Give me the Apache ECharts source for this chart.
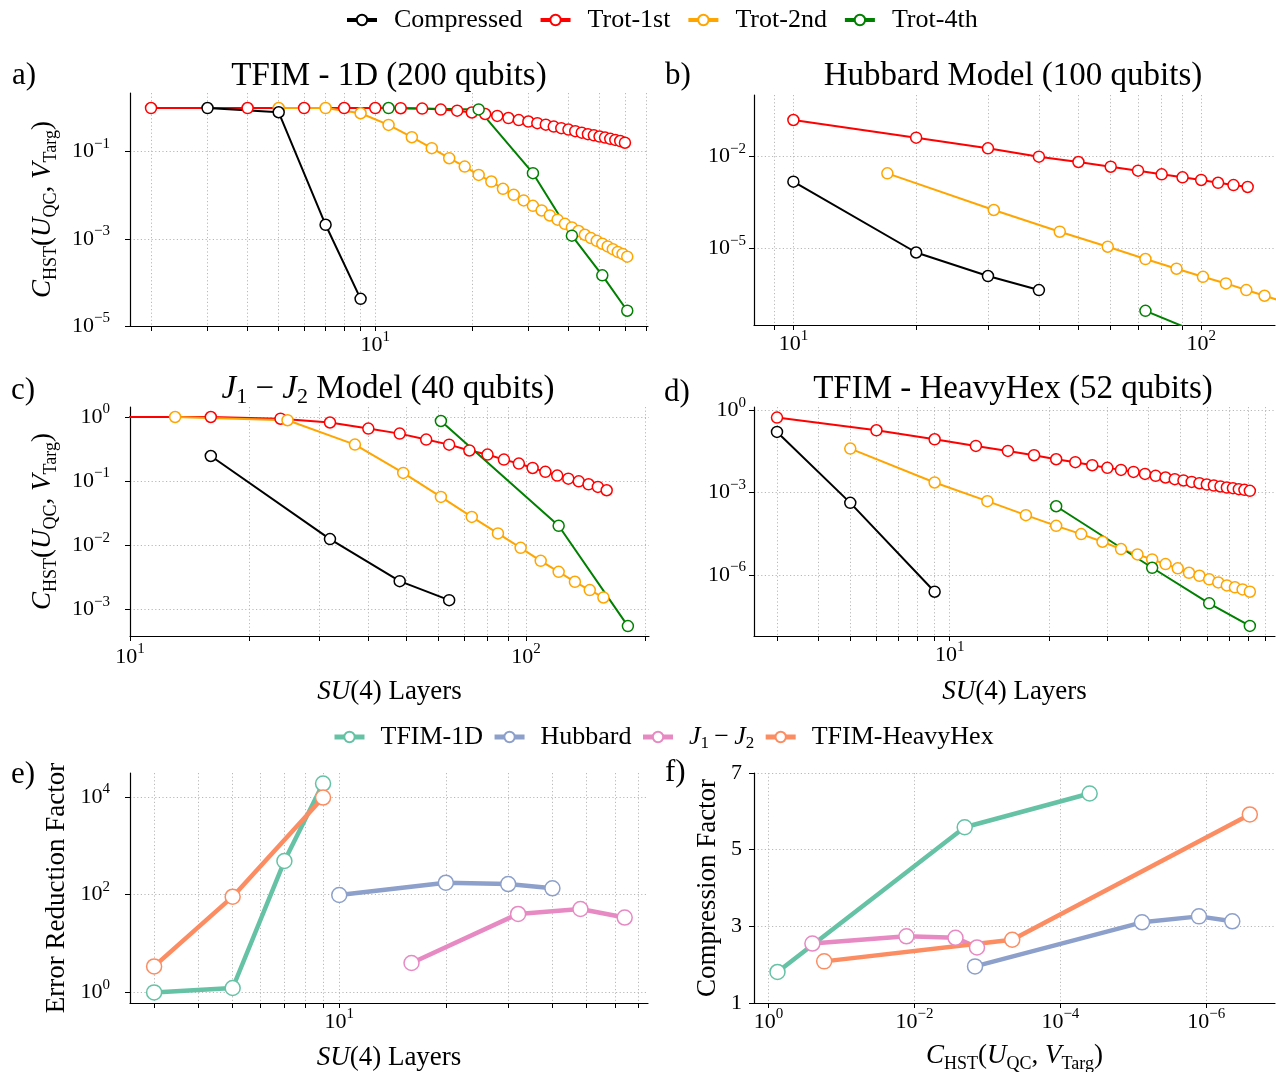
<!DOCTYPE html>
<html>
<head>
<meta charset="utf-8">
<title>Compressed circuits vs Trotter</title>
<script src="https://cdn.jsdelivr.net/npm/echarts@6.0.0/dist/echarts.min.js"></script>
<style>html,body{margin:0;padding:0;background:#fff;}#chart{width:1276px;height:1072px;}</style>
</head>
<body>
<div id="chart"></div>
<script>
// ================= DATA =================
// a) TFIM - 1D (200 qubits)
const aCompX = [3, 5, 7, 9];
const aCompY = [1.0, 0.80, 0.0021, 4.2e-5];
const aT1X = [2, 4, 6, 8, 10, 12, 14, 16, 18, 20, 22, 24, 26, 28, 30, 32, 34, 36, 38, 40, 42, 44, 46, 48, 50, 52, 54, 56, 58, 60];
const aT1Y = [1.0, 1.0, 1.0, 1.0, 1.0, 0.99, 0.97, 0.92, 0.87, 0.79, 0.73, 0.66, 0.59, 0.53, 0.49, 0.45, 0.415, 0.375, 0.345, 0.32, 0.295, 0.272, 0.252, 0.237, 0.222, 0.21, 0.197, 0.186, 0.175, 0.16];
const aT2X = [5, 7, 9, 11, 13, 15, 17, 19, 21, 23, 25, 27, 29, 31, 33, 35, 37, 39, 41, 43, 45, 47, 49, 51, 53, 55, 57, 59, 61];
const aT2Y = [1.0, 1.0, 0.76, 0.41, 0.214, 0.12, 0.0706, 0.0453, 0.0292, 0.0206, 0.014, 0.0102, 0.0076, 0.0057, 0.00447, 0.00343, 0.00275, 0.00221, 0.00182, 0.00151, 0.00124, 0.00104, 0.0009, 0.00077, 0.00067, 0.00058, 0.0005, 0.00045, 0.00039];
const aT4X = [11, 21, 31, 41, 51, 61];
const aT4Y = [1.0, 0.93, 0.032, 0.00118, 1.45e-4, 2.24e-5];

// b) Hubbard Model (100 qubits)
const bCompX = [10, 20, 30, 40];
const bCompY = [1.52e-3, 7.3e-6, 1.24e-6, 4.3e-7];
const bT1X = [10, 20, 30, 40, 50, 60, 70, 80, 90, 100, 110, 120, 130];
const bT1Y = [0.159, 0.042, 0.0188, 0.0100, 0.0067, 0.0047, 0.00348, 0.00265, 0.00211, 0.00173, 0.0014, 0.00118, 0.00102];
const bT2X = [17, 31, 45, 59, 73, 87, 101, 115, 129, 143, 157];
const bT2Y = [2.85e-3, 1.8e-4, 3.5e-5, 1.13e-5, 4.46e-6, 2.15e-6, 1.17e-6, 7.1e-7, 4.3e-7, 2.8e-7, 1.9e-7];
const bT4X = [73, 101];
const bT4Y = [9.0e-8, 1.5e-8];

// c) J1-J2 Model (40 qubits)
const cCompX = [16, 32, 48, 64];
const cCompY = [0.246, 0.0124, 0.00273, 0.00138];
const cT1X = [8, 16, 24, 32, 40, 48, 56, 64, 72, 80, 88, 96, 104, 112, 120, 128, 136, 144, 152, 160];
const cT1Y = [1.0, 1.0, 0.94, 0.82, 0.66, 0.55, 0.444, 0.37, 0.30, 0.259, 0.216, 0.1875, 0.16, 0.139, 0.1217, 0.109, 0.099, 0.089, 0.081, 0.0718];
const cT2X = [13, 25, 37, 49, 61, 73, 85, 97, 109, 121, 133, 145, 157];
const cT2Y = [1.0, 0.89, 0.371, 0.134, 0.0565, 0.0275, 0.0152, 0.00904, 0.00567, 0.00382, 0.00267, 0.00198, 0.00152];
const cT4X = [61, 121, 181];
const cT4Y = [0.866, 0.020, 5.43e-4];

// d) TFIM - HeavyHex (52 qubits)
const dCompX = [3, 5, 9];
const dCompY = [0.163, 4.26e-4, 2.47e-7];
const dT1X = [3, 6, 9, 12, 15, 18, 21, 24, 27, 30, 33, 36, 39, 42, 45, 48, 51, 54, 57, 60, 63, 66, 69, 72, 75, 78, 81];
const dT1Y = [0.542, 0.187, 0.088, 0.0504, 0.0331, 0.0231, 0.0165, 0.0129, 0.0100, 0.0080, 0.00676, 0.0057, 0.00483, 0.00409, 0.00357, 0.0031, 0.00278, 0.00247, 0.00221, 0.00198, 0.00182, 0.00168, 0.00154, 0.00146, 0.00134, 0.00127, 0.00117];
const dT2X = [5, 9, 13, 17, 21, 25, 29, 33, 37, 41, 45, 49, 53, 57, 61, 65, 69, 73, 77, 81];
const dT2Y = [0.0404, 0.00235, 4.9e-4, 1.52e-4, 6.2e-5, 3.1e-5, 1.63e-5, 8.8e-6, 5.65e-6, 3.7e-6, 2.5e-6, 1.75e-6, 1.21e-6, 9.4e-7, 7.0e-7, 5.4e-7, 4.2e-7, 3.57e-7, 3.0e-7, 2.47e-7];
const dT4X = [21, 41, 61, 81];
const dT4Y = [3.2e-4, 1.84e-6, 9.3e-8, 1.4e-8];

// e) Error reduction factor vs SU(4) layers
const eTfimX = [3, 5, 7, 9];
const eTfimY = [1.0, 1.23, 488, 18760];
const eHubX = [10, 20, 30, 40];
const eHubY = [98.6, 176, 165, 135];
const eJ12X = [16, 32, 48, 64];
const eJ12Y = [4.0, 40.4, 51, 34];
const eHexX = [3, 5, 9];
const eHexY = [3.4, 91, 9720];

// f) Compression factor vs C_HST
const fTfimX = [0.755, 2.05e-3, 3.97e-5];
const fTfimY = [1.81, 5.585, 6.465];
const fHubX = [1.48e-3, 7.6e-6, 1.26e-6, 4.4e-7];
const fHubY = [1.955, 3.105, 3.26, 3.13];
const fJ12X = [0.251, 0.0129, 2.74e-3, 1.39e-3];
const fJ12Y = [2.55, 2.74, 2.70, 2.45];
const fHexX = [0.173, 4.57e-4, 2.53e-7];
const fHexY = [2.086, 2.65, 5.92];

// tick values / tick labels
const aXTicks = [2, 3, 4, 5, 6, 7, 8, 9, 10, 20, 30, 40, 50, 60, 70];
const aXLabels = [10];
const aYLabels = [1e-5, 1e-3, 1e-1];
const bXTicks = [9, 10, 20, 30, 40, 50, 60, 70, 80, 90, 100];
const bXLabels = [10, 100];
const bYLabels = [1e-5, 1e-2];
const cXTicks = [10, 20, 30, 40, 50, 60, 70, 80, 90, 100, 200];
const cXLabels = [10, 100];
const cYLabels = [1e-3, 1e-2, 1e-1, 1];
const dXTicks = [3, 4, 5, 6, 7, 8, 9, 10, 20, 30, 40, 50, 60, 70, 80, 90];
const dXLabels = [10];
const dYLabels = [1e-6, 1e-3, 1];
const eXTicks = [3, 4, 5, 6, 7, 8, 9, 10, 20, 30, 40, 50, 60, 70];
const eXLabels = [10];
const eYLabels = [1, 100, 1e4];
const fXLabels = [1, 1e-2, 1e-4, 1e-6];
const fYLabels = [1, 3, 5, 7];

const legendTop = ['Compressed', 'Trot-1st', 'Trot-2nd', 'Trot-4th'];
const legendBottom = ['TFIM-1D', 'Hubbard', 'J1-J2', 'TFIM-HeavyHex'];

// ================= STYLE / LAYOUT =================
const FONT = 'Liberation Serif';
const C_COMP = '#000000', C_T1 = '#ff0000', C_T2 = '#ffa500', C_T4 = '#008000';
const C_TFIM = '#66c2a5', C_HUB = '#8da0cb', C_J12 = '#e78ac3', C_HEX = '#fc8d62';

const grids = [
  {left: 130, top: 93, width: 518, height: 233},
  {left: 754, top: 95, width: 521, height: 230},
  {left: 130, top: 407, width: 519, height: 229},
  {left: 754, top: 407, width: 521, height: 229},
  {left: 130, top: 773, width: 518, height: 230},
  {left: 754, top: 773, width: 521, height: 230}
];
// axis extents (powers of ten)
const xExt = [[0.2355, 1.850], [0.9034, 2.181], [1.0, 2.311], [0.4075, 1.9846], [0.409, 1.872], [-6.942, 0.2]];
const yExt = [[-5, 0.345], [-7.51, 0.02], [-3.42, 0.156], [-8.22, 0.12], [-0.217, 4.49]];

const tickRich = {
  b: {fontFamily: FONT, fontSize: 22, color: '#000', lineHeight: 30},
  s: {fontFamily: FONT, fontSize: 15, color: '#000', verticalAlign: 'top', lineHeight: 16}
};
function expLabel(v) {
  const e = Math.round(Math.log10(v));
  return '{b|10}{s|' + (e < 0 ? '\u2212' + (-e) : String(e)) + '}';
}
const nameRich = {
  i: {fontFamily: FONT, fontStyle: 'italic', fontSize: 27, lineHeight: 34, color: '#000'},
  r: {fontFamily: FONT, fontSize: 27, lineHeight: 34, color: '#000'},
  sub: {fontFamily: FONT, fontSize: 18, lineHeight: 14, verticalAlign: 'bottom', color: '#000'}
};
const CHST = '{i|C}{sub|HST}{r|(}{i|U}{sub|QC}{r|, }{i|V}{sub|Targ}{r|)}';
const SU4 = '{i|SU}{r|(4) Layers}';

const gridLine = {show: true, lineStyle: {color: '#b8b8b8', type: [1.2, 2.4], width: 1}};
const axLine = {show: true, onZero: false, lineStyle: {color: '#000', width: 1.2}};

function logAxis(g, ext, ticks, labels, margin, pos, extra) {
  const ax = {
    type: 'log', logBase: 10, gridIndex: g, position: pos,
    min: Math.pow(10, ext[0]), max: Math.pow(10, ext[1]),
    axisLine: axLine,
    axisTick: {show: true, length: 5, customValues: ticks, lineStyle: {color: '#000', width: 1}},
    axisLabel: {show: true, customValues: labels, formatter: expLabel, rich: tickRich, margin: margin},
    splitLine: gridLine,
    minorTick: {show: false}, minorSplitLine: {show: false}
  };
  return Object.assign(ax, extra || {});
}

const xAxes = [
  logAxis(0, xExt[0], aXTicks, aXLabels, 4, 'bottom'),
  logAxis(1, xExt[1], bXTicks, bXLabels, 4, 'bottom'),
  logAxis(2, xExt[2], cXTicks, cXLabels, 6, 'bottom', {name: SU4, nameLocation: 'middle', nameGap: 39, nameTextStyle: {rich: nameRich}}),
  logAxis(3, xExt[3], dXTicks, dXLabels, 4, 'bottom', {name: SU4, nameLocation: 'middle', nameGap: 39, nameTextStyle: {rich: nameRich}}),
  logAxis(4, xExt[4], eXTicks, eXLabels, 4, 'bottom', {name: SU4, nameLocation: 'middle', nameGap: 38, nameTextStyle: {rich: nameRich}}),
  logAxis(5, xExt[5], fXLabels, fXLabels, 4, 'bottom', {inverse: true, name: CHST, nameLocation: 'middle', nameGap: 36, nameTextStyle: {rich: nameRich}})
];
const yAxes = [
  logAxis(0, yExt[0], aYLabels, aYLabels, 20, 'left', {name: CHST, nameLocation: 'middle', nameRotate: 90, nameGap: 70, nameTextStyle: {rich: nameRich}}),
  logAxis(1, yExt[1], bYLabels, bYLabels, 8, 'left'),
  logAxis(2, yExt[2], cYLabels, cYLabels, 20, 'left', {name: CHST, nameLocation: 'middle', nameRotate: 90, nameGap: 70, nameTextStyle: {rich: nameRich}}),
  logAxis(3, yExt[3], dYLabels, dYLabels, 8, 'left'),
  logAxis(4, yExt[4], eYLabels, eYLabels, 20, 'left', {name: 'Error Reduction Factor', nameLocation: 'middle', nameRotate: 90, nameGap: 60, nameTextStyle: {fontFamily: FONT, fontSize: 27, color: '#000'}}),
  {
    type: 'value', gridIndex: 5, position: 'left', min: 1, max: 7,
    axisLine: axLine,
    axisTick: {show: true, length: 5, customValues: fYLabels, lineStyle: {color: '#000', width: 1}},
    axisLabel: {show: true, customValues: fYLabels, margin: 12, fontFamily: FONT, fontSize: 22, color: '#000'},
    splitLine: gridLine,
    name: 'Compression Factor', nameLocation: 'middle', nameRotate: 90, nameGap: 33,
    nameTextStyle: {fontFamily: FONT, fontSize: 27, color: '#000'}
  }
];

function mk(name, xs, ys, color, g, big, z) {
  return {
    type: 'line', name: name, xAxisIndex: g, yAxisIndex: g,
    data: xs.map((x, i) => [x, ys[i]]),
    symbol: 'circle', symbolSize: big ? 15 : 11,
    lineStyle: {color: color, width: big ? 4.5 : 2},
    itemStyle: {color: '#ffffff', borderColor: color, borderWidth: 1.5},
    emphasis: {disabled: true}, silent: true, clip: true, z: z || 2
  };
}

const series = [
  mk('Trot-1st', aT1X, aT1Y, C_T1, 0), mk('Trot-2nd', aT2X, aT2Y, C_T2, 0), mk('Compressed', aCompX, aCompY, C_COMP, 0), mk('Trot-4th', aT4X, aT4Y, C_T4, 0),
  mk('Trot-1st', bT1X, bT1Y, C_T1, 1), mk('Trot-2nd', bT2X, bT2Y, C_T2, 1), mk('Compressed', bCompX, bCompY, C_COMP, 1), mk('Trot-4th', bT4X, bT4Y, C_T4, 1),
  mk('Trot-1st', cT1X, cT1Y, C_T1, 2), mk('Trot-2nd', cT2X, cT2Y, C_T2, 2), mk('Compressed', cCompX, cCompY, C_COMP, 2), mk('Trot-4th', cT4X, cT4Y, C_T4, 2),
  mk('Trot-1st', dT1X, dT1Y, C_T1, 3), mk('Trot-2nd', dT2X, dT2Y, C_T2, 3), mk('Compressed', dCompX, dCompY, C_COMP, 3), mk('Trot-4th', dT4X, dT4Y, C_T4, 3),
  mk('TFIM-1D', eTfimX, eTfimY, C_TFIM, 4, true), mk('Hubbard', eHubX, eHubY, C_HUB, 4, true), mk('J1-J2', eJ12X, eJ12Y, C_J12, 4, true), mk('TFIM-HeavyHex', eHexX, eHexY, C_HEX, 4, true),
  mk('TFIM-1D', fTfimX, fTfimY, C_TFIM, 5, true), mk('Hubbard', fHubX, fHubY, C_HUB, 5, true), mk('J1-J2', fJ12X, fJ12Y, C_J12, 5, true), mk('TFIM-HeavyHex', fHexX, fHexY, C_HEX, 5, true)
];

const titleRich = {
  r: {fontFamily: FONT, fontSize: 33, color: '#000', lineHeight: 38},
  p: {fontFamily: FONT, fontSize: 31, color: '#000', lineHeight: 38},
  i: {fontFamily: FONT, fontSize: 33, fontStyle: 'italic', color: '#000', lineHeight: 38},
  sub: {fontFamily: FONT, fontSize: 22, color: '#000', verticalAlign: 'bottom', lineHeight: 17}
};
const labels = [
  {t: '{p|a)}', x: 12, y: 76, a: 'left'}, {t: '{p|b)}', x: 665, y: 76, a: 'left'},
  {t: '{p|c)}', x: 11, y: 391, a: 'left'}, {t: '{p|d)}', x: 664, y: 393, a: 'left'},
  {t: '{p|e)}', x: 11, y: 775, a: 'left'}, {t: '{p|f)}', x: 665, y: 773, a: 'left'},
  {t: '{r|TFIM - 1D (200 qubits)}', x: 389, y: 76, a: 'center'},
  {t: '{r|Hubbard Model (100 qubits)}', x: 1013, y: 76, a: 'center'},
  {t: '{i|J}{sub|1}{r| \u2212 }{i|J}{sub|2}{r| Model (40 qubits)}', x: 388, y: 389, a: 'center'},
  {t: '{r|TFIM - HeavyHex (52 qubits)}', x: 1013, y: 389, a: 'center'}
];
const graphic = labels.map(o => ({
  type: 'text', x: o.x, y: o.y, silent: true,
  style: {text: o.t, rich: titleRich, fontFamily: FONT, fontSize: 33, fill: '#000',
    textAlign: o.a, align: o.a, textVerticalAlign: 'middle', verticalAlign: 'middle'}
}));

function legendText(pad) {
  return {fontFamily: FONT, fontSize: 26, color: '#000', padding: [0, 0, 0, pad],
    rich: {
      i: {fontFamily: FONT, fontSize: 26, fontStyle: 'italic', color: '#000', lineHeight: 30},
      r: {fontFamily: FONT, fontSize: 26, color: '#000', lineHeight: 30},
      sub: {fontFamily: FONT, fontSize: 17, color: '#000', verticalAlign: 'bottom', lineHeight: 14}
    }};
}

const option = {
  animation: false,
  backgroundColor: '#ffffff',
  grid: grids.map(g => Object.assign({containLabel: false, outerBoundsMode: 'none'}, g)),
  xAxis: xAxes,
  yAxis: yAxes,
  legend: [
    {data: legendTop, left: 345, top: 7, padding: 0, itemWidth: 30, itemHeight: 13, itemGap: 16,
      textStyle: legendText(12), lineStyle: {width: 4}, selectedMode: false},
    {data: legendBottom, left: 332, top: 724, padding: 0, itemWidth: 30, itemHeight: 13, itemGap: 9,
      textStyle: legendText(11), lineStyle: {width: 5}, selectedMode: false,
      formatter: n => n === 'J1-J2' ? '{i|J}{sub|1}{r|\u2009\u2212\u2009}{i|J}{sub|2}' : n}
  ],
  graphic: graphic,
  series: series
};

const chart = echarts.init(document.getElementById('chart'), null, {renderer: 'canvas'});
chart.setOption(option);
</script>
</body>
</html>
